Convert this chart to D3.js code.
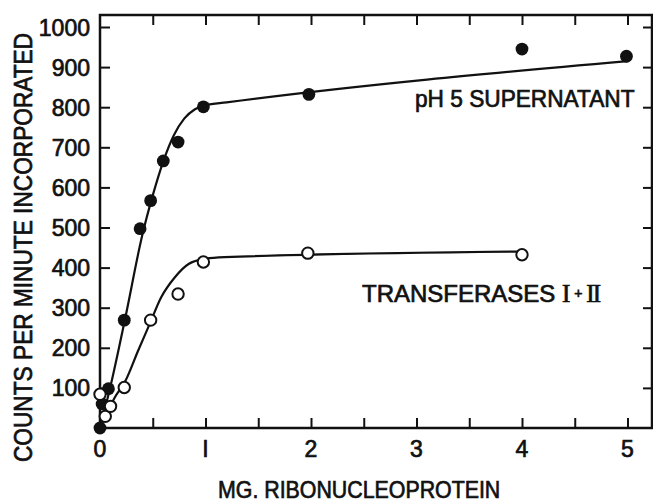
<!DOCTYPE html>
<html>
<head>
<meta charset="utf-8">
<script src="https://cdn.jsdelivr.net/npm/d3@7"></script>
<style>
  html, body { margin: 0; padding: 0; background: #fff; }
  svg { display: block; }
  text { font-family: "Liberation Sans", Arial, sans-serif; fill: #111; stroke: #111; stroke-width: 0.7; }
</style>
</head>
<body>
<svg id="chart" width="653" height="503"></svg>
<script>
// Measured points, pH 5 supernatant (filled circles): mg RNP vs counts/min
const supernatantX = [0, 0.02, 0.08, 0.23, 0.38, 0.48, 0.6, 0.74, 0.98, 1.98, 4.0, 4.99];
const supernatantY = [0, 60, 98, 269, 497, 567, 666, 713, 801, 832, 945, 927];

// Measured points, transferases I + II (open circles)
const transferaseX = [0.0, 0.05, 0.1, 0.23, 0.48, 0.74, 0.98, 1.97, 4.0];
const transferaseY = [84, 29, 54, 101, 269, 334, 414, 436, 432];

// Hand-fitted curves through each series
const supernatantFitX = [0, 0.1, 0.24, 0.4, 0.5, 0.6, 0.7, 0.8, 0.9, 1.0, 1.2, 5.0];
const supernatantFitY = [0, 105, 275, 480, 580, 665, 730, 772, 795, 805, 812, 915];
const transferaseFitX = [0, 0.14, 0.24, 0.36, 0.47, 0.58, 0.71, 0.84, 1.0, 1.18, 4.0];
const transferaseFitY = [0, 76, 117, 192, 259, 326, 376, 409, 422, 426, 440];

// Axis ticks and labels
const xLabelTicks = [0, 1, 2, 3, 4, 5];
const xMinorTicks = [0.5, 1, 1.5, 2, 2.5, 3, 3.5, 4, 4.5, 5];
const yTicks = [100, 200, 300, 400, 500, 600, 700, 800, 900, 1000];
const yLabelTicks = [100, 200, 300, 400, 500, 600, 700, 800, 900, 1000];

const xTitle = "MG. RIBONUCLEOPROTEIN";
const yTitle = "COUNTS PER MINUTE INCORPORATED";
const supernatantLabel = "pH 5 SUPERNATANT";

const svg = d3.select("#chart");

const frame = { left: 100, right: 652, top: 15, bottom: 428 };
const x = d3.scaleLinear().domain([0, 5]).range([100, 627.5]);
const y = d3.scaleLinear().domain([0, 1000]).range([428, 27]);

// Frame
svg.append("rect")
  .attr("x", frame.left).attr("y", frame.top)
  .attr("width", frame.right - frame.left)
  .attr("height", frame.bottom - frame.top)
  .attr("fill", "none").attr("stroke", "#111").attr("stroke-width", 2.5);

function stripDomain(g) { g.select(".domain").remove(); g.selectAll("line").attr("stroke", "#111").attr("stroke-width", 2); }

// Inward ticks on all four sides
svg.append("g").attr("transform", `translate(0,${frame.bottom})`)
  .call(d3.axisBottom(x).tickValues(xMinorTicks).tickSize(-10).tickFormat(""))
  .call(stripDomain);
svg.append("g").attr("transform", `translate(0,${frame.top})`)
  .call(d3.axisTop(x).tickValues(xMinorTicks).tickSize(-10).tickFormat(""))
  .call(stripDomain);
svg.append("g").attr("transform", `translate(${frame.left},0)`)
  .call(d3.axisLeft(y).tickValues(yTicks).tickSize(-10).tickFormat(""))
  .call(stripDomain);
svg.append("g").attr("transform", `translate(${frame.right},0)`)
  .call(d3.axisRight(y).tickValues(yTicks).tickSize(-9).tickFormat(""))
  .call(stripDomain);

// Tick labels
svg.append("g").selectAll("text").data(yLabelTicks).join("text")
  .attr("x", 90).attr("y", d => y(d) + 8.5)
  .attr("text-anchor", "end")
  .attr("font-size", 23)
  .text(d => d);

svg.append("g").selectAll("text").data(xLabelTicks).join("text")
  .attr("x", d => x(d)).attr("y", 457)
  .attr("text-anchor", "middle")
  .attr("font-size", 23)
  .text(d => d === 1 ? "I" : d);

// Axis titles (narrowed lettering via horizontal scale)
svg.append("text")
  .attr("transform", "translate(218,498) scale(0.89,1)")
  .attr("font-size", 24)
  .text(xTitle);

svg.append("text")
  .attr("transform", "translate(32,462) rotate(-90) scale(0.907,1)")
  .attr("font-size", 25)
  .text(yTitle);

// Fitted curves
const line = d3.line().x(d => x(d[0])).y(d => y(d[1])).curve(d3.curveMonotoneX);
const supFit = d3.zip(supernatantFitX, supernatantFitY);
const traFit = d3.zip(transferaseFitX, transferaseFitY);

svg.append("path").datum(supFit).attr("d", line)
  .attr("fill", "none").attr("stroke", "#111").attr("stroke-width", 2.2);
svg.append("path").datum(traFit).attr("d", line)
  .attr("fill", "none").attr("stroke", "#111").attr("stroke-width", 2.2);

// Data points
svg.append("g").selectAll("circle").data(d3.zip(supernatantX, supernatantY)).join("circle")
  .attr("cx", d => x(d[0])).attr("cy", d => y(d[1])).attr("r", 6.4)
  .attr("fill", "#111");

svg.append("g").selectAll("circle").data(d3.zip(transferaseX, transferaseY)).join("circle")
  .attr("cx", d => x(d[0])).attr("cy", d => y(d[1])).attr("r", 5.7)
  .attr("fill", "#fff").attr("stroke", "#111").attr("stroke-width", 2);

// Series labels
svg.append("text")
  .attr("transform", "translate(415,107) scale(0.945,1)")
  .attr("font-size", 24)
  .text(supernatantLabel);

const tl = svg.append("text")
  .attr("x", 362).attr("y", 301.5)
  .attr("font-size", 24);
tl.append("tspan").text("TRANSFERASES ");
tl.append("tspan").attr("font-family", "Liberation Serif, serif").attr("font-size", 25).text("I");
tl.append("tspan").attr("font-size", 14).attr("dy", -4).text(" + ");
tl.append("tspan").attr("font-family", "Liberation Serif, serif").attr("font-size", 25).attr("dy", 4).attr("letter-spacing", -2).text("II");
</script>
</body>
</html>
